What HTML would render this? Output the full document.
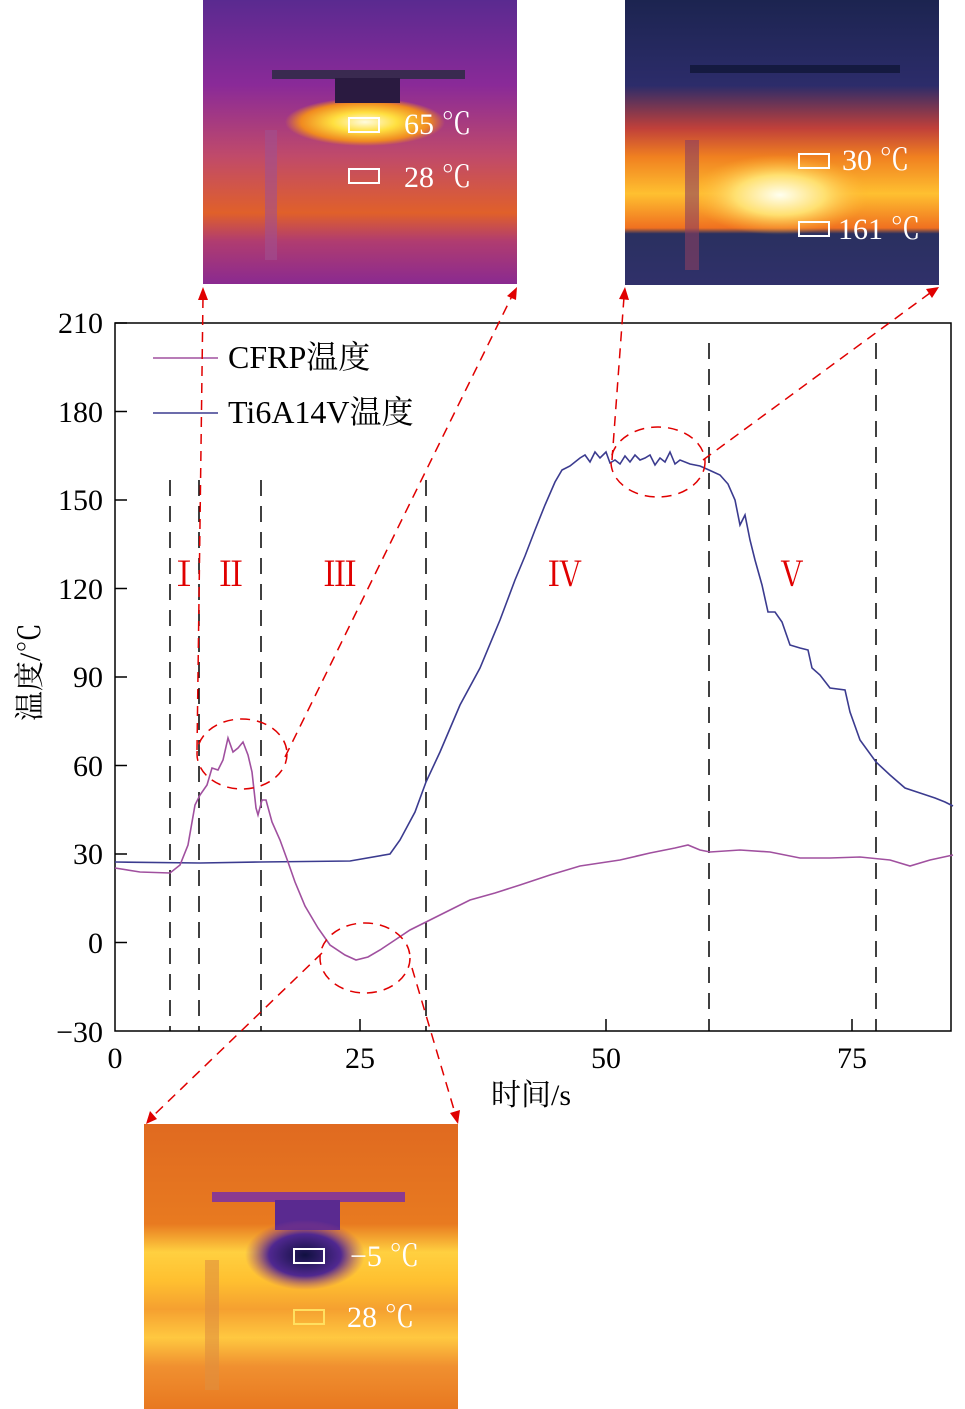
<!DOCTYPE html>
<html><head><meta charset="utf-8"><style>
body{margin:0;background:#fff;}
svg{display:block;font-family:"Liberation Serif","Noto Serif CJK SC",serif;}
</style></head><body>
<svg width="965" height="1409" viewBox="0 0 965 1409" xmlns="http://www.w3.org/2000/svg">
<defs>
<radialGradient id="g1" cx="0.5" cy="0.5" r="0.5"><stop offset="0" stop-color="#fffbe0"/><stop offset="0.4" stop-color="#ffe040"/><stop offset="0.8" stop-color="#f08a20"/><stop offset="1" stop-color="#f08a20" stop-opacity="0"/></radialGradient>
<linearGradient id="tl" x1="0" y1="0" x2="0" y2="1"><stop offset="0" stop-color="#5a2a90"/><stop offset="0.3" stop-color="#8a2a98"/><stop offset="0.55" stop-color="#c04a6a"/><stop offset="0.75" stop-color="#e0602a"/><stop offset="0.85" stop-color="#b03c70"/><stop offset="1" stop-color="#8a2a90"/></linearGradient>
<linearGradient id="tr" x1="0" y1="0" x2="0" y2="1"><stop offset="0" stop-color="#1c2450"/><stop offset="0.3" stop-color="#2c2c6a"/><stop offset="0.45" stop-color="#c0403a"/><stop offset="0.55" stop-color="#f08020"/><stop offset="0.68" stop-color="#ffc030"/><stop offset="0.8" stop-color="#f07020"/><stop offset="0.82" stop-color="#2a3060"/><stop offset="1" stop-color="#30306a"/></linearGradient>
<radialGradient id="g2" cx="0.5" cy="0.5" r="0.5"><stop offset="0" stop-color="#fffff0"/><stop offset="0.5" stop-color="#ffe070"/><stop offset="1" stop-color="#ffb030" stop-opacity="0"/></radialGradient>
<linearGradient id="bt" x1="0" y1="0" x2="0" y2="1"><stop offset="0" stop-color="#e06a20"/><stop offset="0.35" stop-color="#e87a20"/><stop offset="0.45" stop-color="#ffd040"/><stop offset="0.55" stop-color="#ffc030"/><stop offset="0.65" stop-color="#f5a030"/><stop offset="0.75" stop-color="#ffc840"/><stop offset="0.85" stop-color="#f09030"/><stop offset="1" stop-color="#e87820"/></linearGradient>
<radialGradient id="g3" cx="0.5" cy="0.5" r="0.5"><stop offset="0" stop-color="#101040"/><stop offset="0.6" stop-color="#502890"/><stop offset="1" stop-color="#a04080" stop-opacity="0"/></radialGradient>
</defs>

<rect x="203" y="0" width="314" height="284" fill="url(#tl)"/>
<ellipse cx="365" cy="122" rx="80" ry="24" fill="url(#g1)"/>
<rect x="272" y="70" width="193" height="9" fill="#3a2a50"/>
<rect x="335" y="78" width="65" height="25" fill="#2a1a40"/>
<rect x="265" y="130" width="12" height="130" fill="#a05090" opacity="0.6"/>
<rect x="349" y="118" width="30" height="14" fill="none" stroke="#fff" stroke-width="2"/>
<rect x="349" y="169" width="30" height="14" fill="none" stroke="#fff" stroke-width="2"/>
<text x="404" y="134" font-size="30" fill="#fff">65 ℃</text>
<text x="404" y="187" font-size="30" fill="#fff">28 ℃</text>

<rect x="625" y="0" width="314" height="285" fill="url(#tr)"/>
<ellipse cx="780" cy="195" rx="90" ry="40" fill="url(#g2)"/>
<rect x="690" y="65" width="210" height="8" fill="#151a40"/>
<rect x="685" y="140" width="14" height="130" fill="#8a4060" opacity="0.6"/>
<rect x="799" y="154" width="30" height="14" fill="none" stroke="#fff" stroke-width="2"/>
<rect x="799" y="222" width="30" height="14" fill="none" stroke="#fff" stroke-width="2"/>
<text x="842" y="170" font-size="30" fill="#fff">30 ℃</text>
<text x="838" y="239" font-size="30" fill="#fff">161 ℃</text>

<rect x="144" y="1124" width="314" height="285" fill="url(#bt)"/>
<rect x="212" y="1192" width="193" height="10" fill="#8a3a90"/>
<rect x="275" y="1200" width="65" height="30" fill="#5a2a90"/>
<ellipse cx="305" cy="1255" rx="60" ry="35" fill="url(#g3)"/>
<rect x="205" y="1260" width="14" height="130" fill="#e09040" opacity="0.6"/>
<rect x="294" y="1249" width="30" height="14" fill="none" stroke="#fff" stroke-width="2"/>
<rect x="294" y="1310" width="30" height="14" fill="none" stroke="#ffe060" stroke-width="2"/>
<text x="350" y="1266" font-size="30" fill="#fff">−5 ℃</text>
<text x="347" y="1327" font-size="30" fill="#fff">28 ℃</text>

<rect x="115" y="323" width="836" height="708" fill="none" stroke="#000" stroke-width="1.5"/>
<g stroke="#000" stroke-width="1.5">
<line x1="115" y1="323" x2="127" y2="323"/><line x1="115" y1="411.5" x2="127" y2="411.5"/>
<line x1="115" y1="500" x2="127" y2="500"/><line x1="115" y1="588.5" x2="127" y2="588.5"/>
<line x1="115" y1="677" x2="127" y2="677"/><line x1="115" y1="765.5" x2="127" y2="765.5"/>
<line x1="115" y1="854" x2="127" y2="854"/><line x1="115" y1="942.5" x2="127" y2="942.5"/>
<line x1="360" y1="1031" x2="360" y2="1019"/><line x1="606" y1="1031" x2="606" y2="1019"/><line x1="852" y1="1031" x2="852" y2="1019"/>
</g>
<g font-size="30" text-anchor="end">
<text x="103" y="333">210</text><text x="103" y="422">180</text><text x="103" y="510">150</text>
<text x="103" y="599">120</text><text x="103" y="687">90</text><text x="103" y="776">60</text>
<text x="103" y="864">30</text><text x="103" y="953">0</text><text x="103" y="1042">−30</text>
</g>
<g font-size="30" text-anchor="middle">
<text x="115" y="1068">0</text><text x="360" y="1068">25</text><text x="606" y="1068">50</text><text x="852" y="1068">75</text>
<text x="531" y="1105">时间/s</text>
</g>
<text transform="translate(40,672) rotate(-90)" font-size="30" text-anchor="middle">温度/℃</text>

<g stroke="#000" stroke-width="1.5" stroke-dasharray="16,10">
<line x1="170" y1="480" x2="170" y2="1031"/><line x1="199" y1="480" x2="199" y2="1031"/>
<line x1="261" y1="480" x2="261" y2="1031"/><line x1="426" y1="480" x2="426" y2="1031"/>
<line x1="709" y1="343" x2="709" y2="1031"/><line x1="876" y1="343" x2="876" y2="1031"/>
</g>
<g fill="#e00000" font-size="34" text-anchor="middle">
<text x="184" y="586">Ⅰ</text><text x="231" y="586">Ⅱ</text><text x="340" y="586">Ⅲ</text><text x="565" y="586">Ⅳ</text><text x="792" y="586">Ⅴ</text>
</g>

<line x1="153" y1="358" x2="218" y2="358" stroke="#a0509f" stroke-width="1.5"/>
<text x="228" y="368" font-size="32">CFRP温度</text>
<line x1="153" y1="413" x2="218" y2="413" stroke="#3b3b8f" stroke-width="1.5"/>
<text x="228" y="423" font-size="32">Ti6A14V温度</text>

<polyline fill="none" stroke="#3b3b8f" stroke-width="1.6" points="115,862 200,863 260,862 350,861 390,854 400,840 415,812 426,782 440,752 460,705 480,668 500,620 515,580 525,556 535,530 545,505 555,482 562,470 570,466 580,458 585,455 590,462 595,452 600,458 606,452 610,463 615,460 620,464 625,456 630,462 635,455 640,460 645,458 650,455 655,465 660,458 665,462 670,452 675,464 680,460 690,464 700,466 709,470 720,475 728,484 735,500 740,525 745,515 750,540 755,560 762,585 768,612 775,612 782,622 790,645 800,648 808,650 812,668 820,675 830,688 845,690 850,712 860,740 876,762 890,775 905,788 920,793 935,798 945,802 953,806"/>

<polyline fill="none" stroke="#a0509f" stroke-width="1.6" points="115,868 140,872 170,873 180,865 188,845 195,805 200,795 207,785 212,768 218,770 223,760 228,738 233,752 238,748 243,742 248,755 252,772 256,808 258,815 262,800 266,800 272,822 280,840 288,862 295,882 305,906 318,928 330,945 345,955 356,960 368,957 380,950 395,940 410,930 430,920 450,910 470,900 495,893 520,885 550,875 580,866 620,860 650,853 675,848 688,845 700,850 710,852 740,850 770,852 800,858 830,858 860,857 890,860 910,866 930,860 953,855"/>

<g fill="none" stroke="#e00000" stroke-width="1.5" stroke-dasharray="10,7">
<ellipse cx="242" cy="754" rx="45" ry="35"/>
<ellipse cx="365" cy="958" rx="45" ry="35"/>
<ellipse cx="658" cy="462" rx="47" ry="35"/>
<line x1="197" y1="750" x2="203" y2="297"/>
<line x1="285" y1="757" x2="512" y2="296"/>
<line x1="612" y1="460" x2="624" y2="297"/>
<line x1="703" y1="460" x2="930" y2="293"/>
<line x1="322" y1="953" x2="152" y2="1117"/>
<line x1="412" y1="968" x2="455" y2="1113"/>
</g>
<g fill="#e00000">
<polygon points="203,287 198,300 208,300"/>
<polygon points="517,287 507,296 516,300"/>
<polygon points="625,287 619,299 629,300"/>
<polygon points="939,287 926,289 932,298"/>
<polygon points="146,1124 150,1111 157,1119"/>
<polygon points="458,1124 450,1113 460,1110"/>
</g>
</svg>
</body></html>
